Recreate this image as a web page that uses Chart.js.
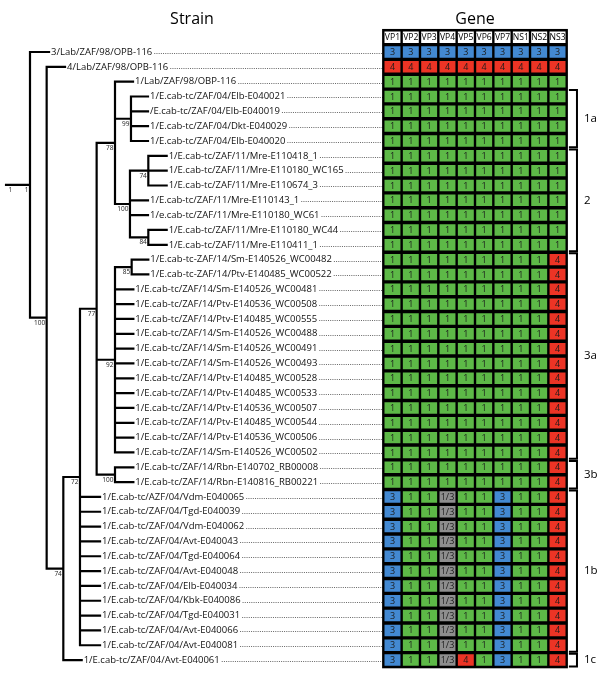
<!DOCTYPE html>
<html>
<head>
<meta charset="utf-8">
<script src="https://cdn.jsdelivr.net/npm/chart.js@4.4.1/dist/chart.umd.min.js"></script>
<style>
  html, body { margin: 0; padding: 0; background: #fff; }
  #wrap { position: relative; width: 600px; height: 688px; overflow: hidden; }
  #treeChart { position: absolute; left: 0; top: 0; }
  #geneChart { position: absolute; left: 370px; top: 0; }
</style>
</head>
<body>
<div id="wrap">
  <canvas id="treeChart" width="384" height="688"></canvas>
  <canvas id="geneChart" width="230" height="688"></canvas>
</div>
<script>
const genes = ['VP1', 'VP2', 'VP3', 'VP4', 'VP5', 'VP6', 'VP7', 'NS1', 'NS2', 'NS3'];

const strains = [
  '3/Lab/ZAF/98/OPB-116',
  '4/Lab/ZAF/98/OPB-116',
  '1/Lab/ZAF/98/OBP-116',
  '1/E.cab-tc/ZAF/04/Elb-E040021',
  '/E.cab-tc/ZAF/04/Elb-E040019',
  '1/E.cab-tc/ZAF/04/Dkt-E040029',
  '1/E.cab-tc/ZAF/04/Elb-E040020',
  '1/E.cab-tc/ZAF/11/Mre-E110418_1',
  '1/E.cab-tc/ZAF/11/Mre-E110180_WC165',
  '1/E.cab-tc/ZAF/11/Mre-E110674_3',
  '1/E.cab-tc/ZAF/11/Mre-E110143_1',
  '1/e.cab-tc/ZAF/11/Mre-E110180_WC61',
  '1/E.cab-tc/ZAF/11/Mre-E110180_WC44',
  '1/E.cab-tc/ZAF/11/Mre-E110411_1',
  '1/E.cab-tc-ZAF/14/Sm-E140526_WC00482',
  '1/E.cab-tc-ZAF/14/Ptv-E140485_WC00522',
  '1/E.cab-tc/ZAF/14/Sm-E140526_WC00481',
  '1/E.cab-tc/ZAF/14/Ptv-E140536_WC00508',
  '1/E.cab-tc/ZAF/14/Ptv-E140485_WC00555',
  '1/E.cab-tc/ZAF/14/Sm-E140526_WC00488',
  '1/E.cab-tc/ZAF/14/Sm-E140526_WC00491',
  '1/E.cab-tc/ZAF/14/Sm-E140526_WC00493',
  '1/E.cab-tc/ZAF/14/Ptv-E140485_WC00528',
  '1/E.cab-tc/ZAF/14/Ptv-E140485_WC00533',
  '1/E.cab-tc/ZAF/14/Ptv-E140536_WC00507',
  '1/E.cab-tc/ZAF/14/Ptv-E140485_WC00544',
  '1/E.cab-tc/ZAF/14/Ptv-E140536_WC00506',
  '1/E.cab-tc/ZAF/14/Sm-E140526_WC00502',
  '1/E.cab-tc/ZAF/14/Rbn-E140702_RB00008',
  '1/E.cab-tc/ZAF/14/Rbn-E140816_RB00221',
  '1/E.cab-tc/AZF/04/Vdm-E040065',
  '1/E.cab-tc/ZAF/04/Tgd-E040039',
  '1/E.cab-tc/ZAF/04/Vdm-E040062',
  '1/E.cab-tc/ZAF/04/Avt-E040043',
  '1/E.cab-tc/ZAF/04/Tgd-E040064',
  '1/E.cab-tc/ZAF/04/Avt-E040048',
  '1/E.cab-tc/ZAF/04/Elb-E040034',
  '1/E.cab-tc/ZAF/04/Kbk-E040086',
  '1/E.cab-tc/ZAF/04/Tgd-E040031',
  '1/E.cab-tc/ZAF/04/Avt-E040066',
  '1/E.cab-tc/ZAF/04/Avt-E040081',
  '1/E.cab-tc/ZAF/04/Avt-E040061'
];

// genotype per gene, one value per strain (same order as strains)
const VP1 = [3, 4, 1, 1, 1, 1, 1, 1, 1, 1, 1, 1, 1, 1, 1, 1, 1, 1, 1, 1, 1, 1, 1, 1, 1, 1, 1, 1, 1, 1, 3, 3, 3, 3, 3, 3, 3, 3, 3, 3, 3, 3];
const VP2 = [3, 4, 1, 1, 1, 1, 1, 1, 1, 1, 1, 1, 1, 1, 1, 1, 1, 1, 1, 1, 1, 1, 1, 1, 1, 1, 1, 1, 1, 1, 1, 1, 1, 1, 1, 1, 1, 1, 1, 1, 1, 1];
const VP3 = [3, 4, 1, 1, 1, 1, 1, 1, 1, 1, 1, 1, 1, 1, 1, 1, 1, 1, 1, 1, 1, 1, 1, 1, 1, 1, 1, 1, 1, 1, 1, 1, 1, 1, 1, 1, 1, 1, 1, 1, 1, 1];
const VP4 = [3, 4, 1, 1, 1, 1, 1, 1, 1, 1, 1, 1, 1, 1, 1, 1, 1, 1, 1, 1, 1, 1, 1, 1, 1, 1, 1, 1, 1, 1,
  '1/3', '1/3', '1/3', '1/3', '1/3', '1/3', '1/3', '1/3', '1/3', '1/3', '1/3', '1/3'];
const VP5 = [3, 4, 1, 1, 1, 1, 1, 1, 1, 1, 1, 1, 1, 1, 1, 1, 1, 1, 1, 1, 1, 1, 1, 1, 1, 1, 1, 1, 1, 1, 1, 1, 1, 1, 1, 1, 1, 1, 1, 1, 1, 4];
const VP6 = [3, 4, 1, 1, 1, 1, 1, 1, 1, 1, 1, 1, 1, 1, 1, 1, 1, 1, 1, 1, 1, 1, 1, 1, 1, 1, 1, 1, 1, 1, 1, 1, 1, 1, 1, 1, 1, 1, 1, 1, 1, 1];
const VP7 = [3, 4, 1, 1, 1, 1, 1, 1, 1, 1, 1, 1, 1, 1, 1, 1, 1, 1, 1, 1, 1, 1, 1, 1, 1, 1, 1, 1, 1, 1, 3, 3, 3, 3, 3, 3, 3, 3, 3, 3, 3, 3];
const NS1 = [3, 4, 1, 1, 1, 1, 1, 1, 1, 1, 1, 1, 1, 1, 1, 1, 1, 1, 1, 1, 1, 1, 1, 1, 1, 1, 1, 1, 1, 1, 1, 1, 1, 1, 1, 1, 1, 1, 1, 1, 1, 1];
const NS2 = [3, 4, 1, 1, 1, 1, 1, 1, 1, 1, 1, 1, 1, 1, 1, 1, 1, 1, 1, 1, 1, 1, 1, 1, 1, 1, 1, 1, 1, 1, 1, 1, 1, 1, 1, 1, 1, 1, 1, 1, 1, 1];
const NS3 = [3, 4, 1, 1, 1, 1, 1, 1, 1, 1, 1, 1, 1, 1, 4, 4, 4, 4, 4, 4, 4, 4, 4, 4, 4, 4, 4, 4, 4, 4, 4, 4, 4, 4, 4, 4, 4, 4, 4, 4, 4, 4];
const geneValues = [VP1, VP2, VP3, VP4, VP5, VP6, VP7, NS1, NS2, NS3];

const genotypeColors = { '1': '#5DB947', '3': '#4389D2', '4': '#EC3425', '1/3': '#8E8E8E' };

// clusters shown by the brackets on the right
const clusterNames = ['1a', '2', '3a', '3b', '1b', '1c'];
const clusterFirstRow = [3, 7, 14, 28, 30, 41];
const clusterLastRow = [6, 13, 27, 29, 40, 41];

// tree: internal nodes (depth in branch-length units) and the leaves hanging from them
const nodeIds = ['R', 'A', 'B', 'C', 'D', 'E', 'F', 'G', 'H', 'I', 'J', 'K', 'L'];
const nodeParent = [null, 'R', 'A', 'B', 'C', 'D', 'D', 'D', 'E', 'E', 'F', 'I', 'I'];
const nodeDepth = [0, 0.98, 1.96, 2.94, 3.92, 5.0, 5.0, 5.0, 5.94, 5.88, 5.98, 6.96, 6.96];
const nodeSupport = ['1', '100', '74', '72', '77', '78', '92', '100', '99', '100', '85', '74', '84'];
const rootStubDepth = -1.41;
const rootStubLabel = '1';

const leafParent = ['R', 'A', 'E', 'H', 'H', 'H', 'H', 'K', 'K', 'K', 'I', 'I', 'L', 'L', 'J', 'J',
  'F', 'F', 'F', 'F', 'F', 'F', 'F', 'F', 'F', 'F', 'F', 'F', 'G', 'G',
  'C', 'C', 'C', 'C', 'C', 'C', 'C', 'C', 'C', 'C', 'C', 'B'];
const leafDepth = [1.12, 2.06, 6.06, 6.94, 6.94, 6.94, 6.94, 8.04, 8.04, 8.04, 6.94, 6.94, 8.04, 8.04, 6.96, 6.96,
  6.08, 6.08, 6.08, 6.08, 6.08, 6.08, 6.08, 6.08, 6.08, 6.08, 6.08, 6.08, 6.08, 6.08,
  4.12, 4.12, 4.12, 4.12, 4.12, 4.12, 4.12, 4.12, 4.12, 4.12, 4.12, 3.04];

const FONT = '"Open Sans", "Noto Sans", sans-serif';

// ---- tree layout
const nodeYCache = {};
function childrenOf(id) {
  const kids = [];
  leafParent.forEach((p, i) => { if (p === id) kids.push({ depth: leafDepth[i], y: i }); });
  nodeIds.forEach((n, i) => { if (nodeParent[i] === id) kids.push({ depth: nodeDepth[i], y: nodeY(n) }); });
  return kids;
}
function nodeY(id) {
  if (nodeYCache[id] === undefined) {
    const ys = childrenOf(id).map(k => k.y);
    nodeYCache[id] = (Math.min(...ys) + Math.max(...ys)) / 2;
  }
  return nodeYCache[id];
}
const gap = () => ({ x: NaN, y: NaN });
const branchPoints = [];
const rootY = nodeY('R');
branchPoints.push({ x: rootStubDepth, y: rootY }, { x: 0, y: rootY }, gap());
nodeIds.forEach((id, i) => {
  const kids = childrenOf(id);
  const ys = kids.map(k => k.y);
  branchPoints.push({ x: nodeDepth[i], y: Math.min(...ys) }, { x: nodeDepth[i], y: Math.max(...ys) }, gap());
  kids.forEach(k => branchPoints.push({ x: nodeDepth[i], y: k.y }, { x: k.depth, y: k.y }, gap()));
});

const treeLabels = {
  id: 'treeLabels',
  afterDatasetsDraw(chart) {
    const { ctx, chartArea, scales: { x, y } } = chart;
    ctx.save();
    ctx.font = `9.5px ${FONT}`;
    ctx.textBaseline = 'middle';
    strains.forEach((name, i) => {
      const px = x.getPixelForValue(leafDepth[i]) + 2;
      const py = y.getPixelForValue(i);
      ctx.fillStyle = '#111';
      ctx.fillText(name, px, py);
      const end = px + ctx.measureText(name).width + 2;
      const dy = Math.round(py) + 1.5;
      ctx.beginPath();
      ctx.setLineDash([1, 1.2]);
      ctx.strokeStyle = '#666';
      ctx.lineWidth = 1;
      ctx.moveTo(end, dy);
      ctx.lineTo(chartArea.right - 1, dy);
      ctx.stroke();
    });
    ctx.setLineDash([]);
    ctx.fillStyle = '#222';
    ctx.font = `6.5px ${FONT}`;
    ctx.textBaseline = 'top';
    ctx.textAlign = 'right';
    nodeIds.forEach((id, i) => {
      ctx.fillText(nodeSupport[i], x.getPixelForValue(nodeDepth[i]) - 1.5, y.getPixelForValue(nodeY(id)) + 2);
    });
    ctx.textAlign = 'left';
    ctx.fillText(rootStubLabel, x.getPixelForValue(rootStubDepth) + 2.5, y.getPixelForValue(rootY) + 2);
    ctx.restore();
  }
};

new Chart(document.getElementById('treeChart'), {
  type: 'scatter',
  data: {
    datasets: [{
      data: branchPoints,
      showLine: true,
      spanGaps: false,
      borderColor: '#000',
      borderWidth: 2.2,
      borderCapStyle: 'square',
      borderJoinStyle: 'miter',
      pointRadius: 0,
      tension: 0,
      clip: false
    }]
  },
  options: {
    responsive: false,
    animation: false,
    events: [],
    layout: { padding: { top: 0, bottom: 20.5, left: 0, right: 0 } },
    scales: {
      x: { type: 'linear', display: false, min: -30 / 17, max: -30 / 17 + 384 / 17 },
      y: { type: 'linear', display: false, min: -1.5, max: 41.5, reverse: true }
    },
    plugins: {
      legend: { display: false },
      tooltip: { enabled: false },
      title: {
        display: true,
        text: 'Strain',
        color: '#000',
        font: { family: FONT, size: 16, weight: 'normal' },
        padding: { top: 9.4, bottom: 1.15 }
      }
    }
  },
  plugins: [treeLabels]
});

// ---- gene grid
const gridDatasets = [{
  data: genes.map(() => [-1.5, -0.5]),
  backgroundColor: '#fff',
  cellText: genes,
  header: true
}];
strains.forEach((s, r) => {
  gridDatasets.push({
    data: genes.map(() => [r - 0.5, r + 0.5]),
    backgroundColor: geneValues.map(g => genotypeColors[String(g[r])]),
    cellText: geneValues.map(g => String(g[r]))
  });
});
clusterNames.forEach((name, c) => {
  const top = clusterFirstRow[c] - 0.5 + 0.07;
  const bottom = clusterLastRow[c] + 0.5 - 0.07;
  gridDatasets.push({
    type: 'line',
    xAxisID: 'xb',
    data: [{ x: 9.62, y: top }, { x: 10.06, y: top }, { x: 10.06, y: bottom }, { x: 9.62, y: bottom }],
    borderColor: '#000',
    borderWidth: 2,
    borderJoinStyle: 'miter',
    pointRadius: 0,
    tension: 0,
    fill: false,
    clip: false
  });
});

const gridDecor = {
  id: 'gridDecor',
  beforeDatasetsDraw(chart) {
    const { ctx, chartArea: a } = chart;
    ctx.save();
    ctx.fillStyle = '#000';
    ctx.fillRect(a.left - 1.2, a.top - 0.8, a.right - a.left + 2.4, a.bottom - a.top + 1.6);
    ctx.restore();
  },
  afterDatasetsDraw(chart) {
    const { ctx, scales: { xb, y } } = chart;
    ctx.save();
    ctx.textAlign = 'center';
    ctx.textBaseline = 'middle';
    chart.data.datasets.forEach((ds, di) => {
      if (!ds.cellText) return;
      ctx.font = ds.header ? `8.6px ${FONT}` : `9px ${FONT}`;
      ctx.fillStyle = ds.header ? '#000' : '#1c1c1c';
      chart.getDatasetMeta(di).data.forEach((bar, j) => {
        const c = bar.getCenterPoint();
        ctx.fillText(ds.cellText[j], c.x, c.y + 0.5);
      });
    });
    ctx.textAlign = 'left';
    ctx.fillStyle = '#000';
    ctx.font = `11.5px ${FONT}`;
    clusterNames.forEach((name, c) => {
      const mid = (clusterFirstRow[c] + clusterLastRow[c]) / 2;
      ctx.fillText(name, xb.getPixelForValue(10.44), y.getPixelForValue(mid));
    });
    ctx.restore();
  }
};

new Chart(document.getElementById('geneChart'), {
  type: 'bar',
  data: { labels: genes, datasets: gridDatasets },
  options: {
    responsive: false,
    animation: false,
    events: [],
    layout: { padding: { top: 0, bottom: 20.5, left: 13.3, right: 33.3 } },
    datasets: {
      bar: {
        grouped: false,
        categoryPercentage: 1,
        barPercentage: 1,
        borderColor: '#000',
        borderWidth: { top: 1.7, bottom: 1.7, left: 1.2, right: 1.2 },
        borderSkipped: false,
        inflateAmount: 0
      }
    },
    scales: {
      x: { type: 'category', display: false, offset: true },
      xb: { type: 'linear', axis: 'x', display: false, offset: false, min: -0.5, max: 9.5 },
      y: { type: 'linear', display: false, offset: false, min: -1.5, max: 41.5, reverse: true }
    },
    plugins: {
      legend: { display: false },
      tooltip: { enabled: false },
      title: {
        display: true,
        fullSize: false,
        text: 'Gene',
        color: '#000',
        font: { family: FONT, size: 16, weight: 'normal' },
        padding: { top: 9.4, bottom: 1.15 }
      }
    }
  },
  plugins: [gridDecor]
});
</script>
</body>
</html>
